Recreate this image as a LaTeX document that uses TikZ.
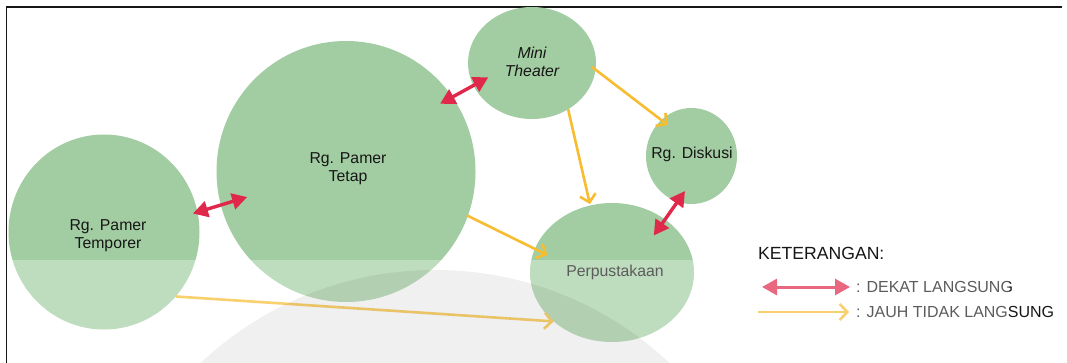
\documentclass[tikz,border=0pt]{standalone}
\usepackage{fontspec}
\setmainfont{Liberation Sans}
\usetikzlibrary{shapes.geometric,arrows.meta}
\definecolor{roomgreen}{RGB}{162,205,162}
\definecolor{nearred}{RGB}{224,40,74}
\definecolor{faryellow}{RGB}{247,188,48}
\definecolor{inktext}{RGB}{22,22,22}
\tikzset{
  room/.style={ellipse, fill=roomgreen, inner sep=0pt, outer sep=0pt},
  roomname/.style={inner sep=0pt, text=inktext, align=center,
    font=\fontsize{15.8}{18}\selectfont},
  near/.style={draw=nearred, line width=3.4pt,
    {Triangle[length=15pt,width=16pt]}-{Triangle[length=15pt,width=16pt]}},
  far/.style={draw=faryellow, line width=2.6pt,
    -{Straight Barb[length=7.5pt,width=16pt]}},
  keytext/.style={inner sep=0pt, anchor=west, text=inktext,
    font=\fontsize{16}{18}\selectfont},
}
\begin{document}
\begin{tikzpicture}[x=1pt,y=-1pt]
\useasboundingbox (0,0) rectangle (1067,363);
\fill[white] (0,0) rectangle (1067,363);

% frame
\draw[line width=1.6pt, inktext] (6.5,363) -- (6.5,7) -- (1062,7);

% rooms
\node[room, minimum width=191pt, minimum height=195pt] (temp)  at (104,232)   {};
\node[room, minimum width=259pt, minimum height=261pt] (tetap) at (346,171.5) {};
\node[room, minimum width=128pt, minimum height=112pt] (mini)  at (532,63)    {};
\node[room, minimum width=91pt,  minimum height=96pt]  (disk)  at (691.5,156) {};
\node[room, minimum width=164pt, minimum height=139pt] (perp)  at (612,272.5) {};

\node[roomname] (tempname)  at (108,236) {Rg. Pamer\\Temporer};
\node[roomname] (tetapname) at (348,169) {Rg. Pamer\\Tetap};
\node[roomname, font=\fontsize{15.8}{18}\selectfont\itshape] (mininame) at (532,62) {Mini\\Theater};
\node[roomname] (diskname)  at (692,154) {Rg. Diskusi};
\node[roomname] (perpname)  at (615,272.7) {Perpustakaan};

% direct relations
\draw[near, shorten <=-4.8pt, shorten >=-27.5pt] (temp.12) -- (tetap.195);
\draw[near, shorten <=-14pt, shorten >=-17pt] (tetap.35) -- (mini.201);
\draw[near, shorten <=-13pt, shorten >=-19.6pt] (disk.253) -- (perp.45);

% indirect relations
\draw[far, shorten <=-4.4pt, shorten >=-8.3pt] (mini.354) -- (disk.130);
\draw[far, shorten >=1.5pt] (mini.308) -- (perp.108);
\draw[far, shorten <=-1pt, shorten >=-13.8pt] (tetap.340) -- (perp.163);
\draw[far] (temp.318) -- (perp.220);

% legend
\node[inner sep=0pt, anchor=west, text=inktext,
      font=\fontsize{17.6}{20}\selectfont] (keyhead) at (758,253) {KETERANGAN:};
\coordinate (k1a) at (762,287);
\coordinate (k1b) at (850,287);
\coordinate (k2a) at (758,312);
\coordinate (k2b) at (849,312);
\draw[near, line width=3pt] (k1a) -- (k1b);
\draw[far] (k2a) -- (k2b);
\node[keytext] (k1t) at (856,287) {: DEKAT LANGSUNG};
\node[keytext] (k2t) at (856,312) {: JAUH TIDAK LANGSUNG};

% pale lower band and soft grey disc
\fill[white, opacity=0.3] (7.3,260) rectangle (1008.5,363);
\begin{scope}
  \clip (7.3,260) rectangle (1067,363);
  \fill[black, opacity=0.06] (435,612) circle (342pt);
\end{scope}
\end{tikzpicture}
\end{document}
